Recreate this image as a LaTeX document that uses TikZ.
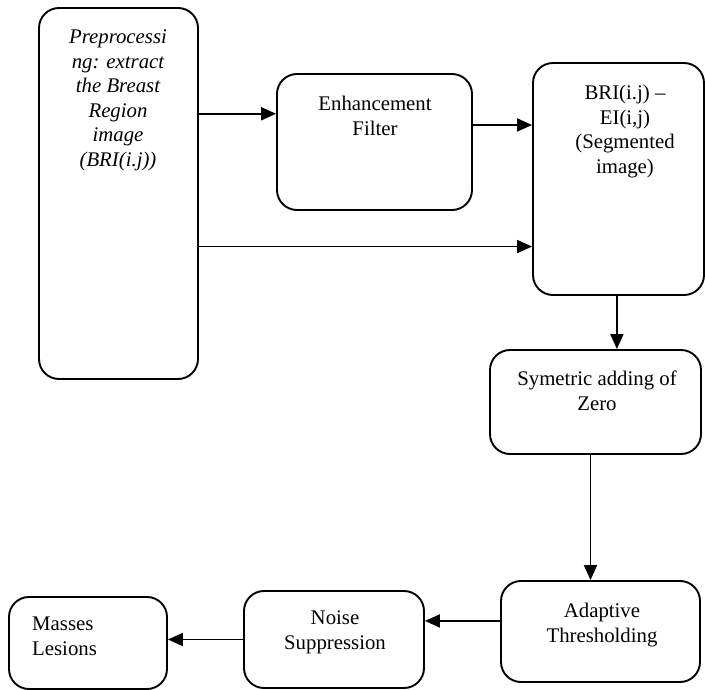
\documentclass[tikz,border=0pt]{standalone}
\usepackage{fontspec}
\setmainfont{Liberation Serif}
\usetikzlibrary{arrows.meta}
\newcommand{\diagfont}{\fontsize{20.8}{24.5}\selectfont}
\tikzstyle{block} = [rectangle, rounded corners=20pt, draw=black, line width=1.9pt, inner sep=0pt]
\tikzstyle{boxtext} = [inner sep=0pt, align=center, anchor=north, font=\diagfont]
\tikzstyle{arrow} = [line width=1.9pt, -{Triangle[length=15pt,width=13pt]}]
\begin{document}
\begin{tikzpicture}[x=1pt, y=-1pt]
\useasboundingbox (0,0) rectangle (705,690);
\node (pre) [block, minimum width=159pt, minimum height=371pt] at (118.5,193.5) {};
\node (enh) [block, minimum width=195pt, minimum height=136pt] at (374.5,142) {};
\node (bri) [block, minimum width=171pt, minimum height=232pt] at (618.5,179) {};
\node (sym) [block, minimum width=211pt, minimum height=104pt] at (595.5,402) {};
\node (adapt) [block, minimum width=199pt, minimum height=101pt] at (600.5,631.5) {};
\node (noise) [block, minimum width=180pt, minimum height=97pt] at (334,639.5) {};
\node (masses) [block, minimum width=158pt, minimum height=92pt] at (88,643) {};

\node (pretext) [boxtext, font=\diagfont\itshape] at (118,30) {Preprocessi\\ng: extract\\the Breast\\Region\\image\\(BRI(i.j))};
\node (enhtext) [boxtext] at (375,96) {Enhancement\\Filter};
\node (britext) [boxtext] at (625,85) {BRI(i.j) –\\EI(i,j)\\(Segmented\\image)};
\node (symtext) [boxtext] at (597,371) {Symetric adding of\\Zero};
\node (adapttext) [boxtext] at (602,603) {Adaptive\\Thresholding};
\node (noisetext) [boxtext] at (335,611) {Noise\\Suppression};
\node (massestext) [boxtext, anchor=north west, align=left] at (32,617) {Masses\\Lesions};

\draw [arrow] (pre.east |- enh.164.5) -- (enh.164.5);
\draw [arrow] (enh.east |- bri.148.7) -- (bri.148.7);
\draw [arrow] (pre.east |- bri.218.9) -- (bri.218.9);
\draw [arrow] (bri.south -| sym.68.5) -- (sym.68.5);
\draw [arrow] (sym.south -| adapt.101.7) -- (adapt.101.7);
\draw [arrow] (adapt.174.5) -- (noise.east |- adapt.174.5);
\draw [arrow] (noise.west) -- (masses.east |- noise.west);
\end{tikzpicture}
\end{document}
